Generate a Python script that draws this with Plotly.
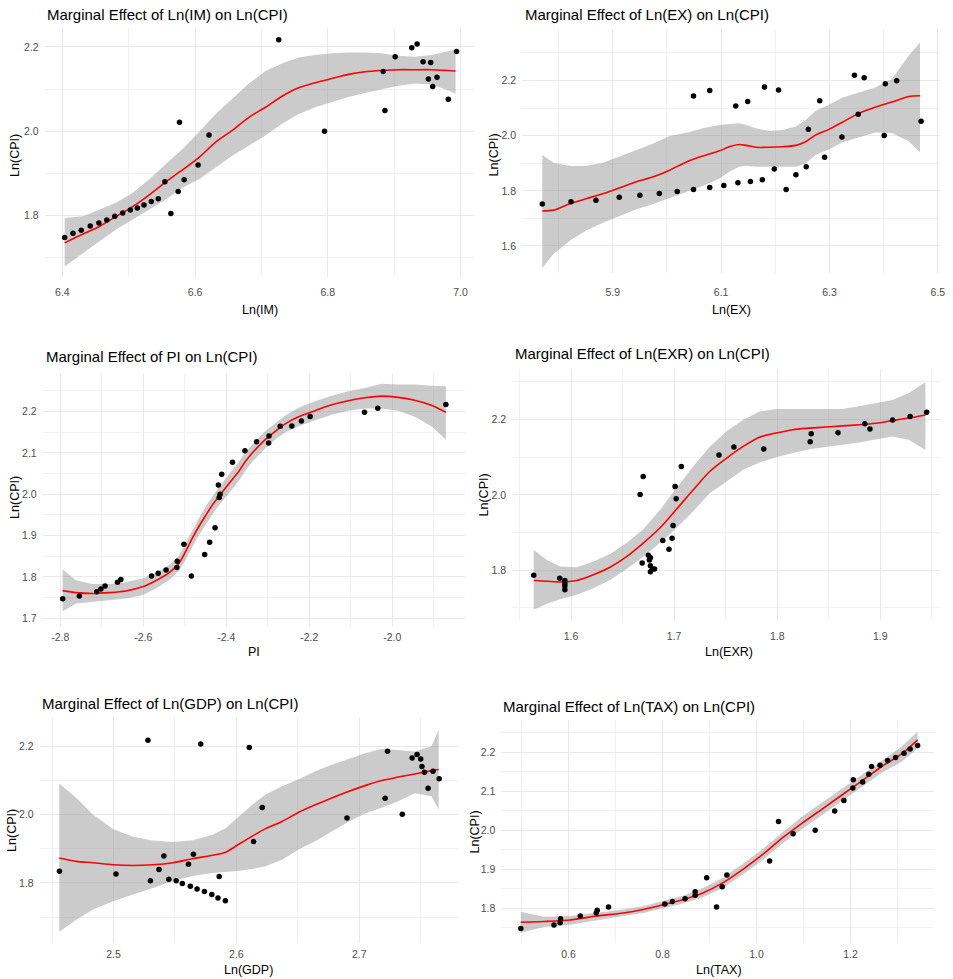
import plotly.graph_objects as go

# ---------------- DATA ----------------
# Panel 1: Ln(IM)
im_x = [6.4035, 6.416, 6.4285, 6.442, 6.455, 6.467, 6.479, 6.491, 6.5025, 6.513, 6.523, 6.534,
        6.5445, 6.5545, 6.5635, 6.5745, 6.5765, 6.5835, 6.6045, 6.621, 6.726, 6.795, 6.8835, 6.886,
        6.9015, 6.9265, 6.9345, 6.9435, 6.955, 6.9515, 6.9645, 6.958, 6.9815, 6.994]
im_y = [1.748, 1.758, 1.765, 1.775, 1.782, 1.789, 1.798, 1.806, 1.813, 1.818, 1.825, 1.833,
        1.840, 1.880, 1.805, 1.857, 2.0215, 1.885, 1.920, 1.991, 2.217, 2.000, 2.142, 2.049,
        2.177, 2.198, 2.207, 2.165, 2.163, 2.124, 2.128, 2.106, 2.076, 2.189]
im_sx = [6.4035, 6.431, 6.456, 6.481, 6.506, 6.531, 6.556, 6.581, 6.606, 6.631, 6.656, 6.681,
         6.706, 6.731, 6.756, 6.781, 6.806, 6.831, 6.856, 6.881, 6.906, 6.931, 6.956, 6.981, 6.9925]
im_fit = [1.735, 1.756, 1.774, 1.798, 1.821, 1.849, 1.880, 1.908, 1.938, 1.974, 2.002, 2.033,
          2.057, 2.083, 2.103, 2.115, 2.125, 2.135, 2.141, 2.144, 2.146, 2.146, 2.146, 2.144, 2.143]
im_hi = [1.794, 1.798, 1.814, 1.830, 1.854, 1.886, 1.922, 1.958, 1.998, 2.041, 2.077, 2.113,
         2.143, 2.161, 2.175, 2.181, 2.185, 2.187, 2.187, 2.185, 2.179, 2.177, 2.181, 2.189, 2.194]
im_lo = [1.679, 1.711, 1.739, 1.767, 1.790, 1.814, 1.838, 1.866, 1.886, 1.914, 1.942, 1.966,
         1.990, 2.018, 2.041, 2.057, 2.069, 2.081, 2.091, 2.100, 2.108, 2.113, 2.111, 2.097, 2.089]

# Panel 2: Ln(EX)
ex_x = [5.770, 5.823, 5.869, 5.912, 5.950, 5.986, 6.019, 6.049, 6.049, 6.079, 6.079, 6.105,
        6.127, 6.131, 6.149, 6.154, 6.176, 6.180, 6.198, 6.206, 6.220, 6.238, 6.257, 6.261,
        6.282, 6.291, 6.323, 6.346, 6.353, 6.364, 6.401, 6.403, 6.424, 6.469]
ex_y = [1.752, 1.760, 1.766, 1.777, 1.784, 1.790, 1.798, 1.805, 2.144, 1.812, 2.164, 1.819,
        2.108, 1.829, 2.124, 1.834, 1.840, 2.177, 1.879, 2.166, 1.805, 1.858, 1.887, 2.023,
        2.127, 1.922, 1.995, 2.219, 2.078, 2.210, 2.001, 2.188, 2.199, 2.052]
ex_sx = [5.770, 5.791, 5.822, 5.852, 5.883, 5.913, 5.944, 5.975, 6.005, 6.036, 6.066, 6.097,
         6.115, 6.134, 6.146, 6.164, 6.189, 6.213, 6.238, 6.256, 6.274, 6.299, 6.323, 6.354,
         6.384, 6.415, 6.446, 6.467]
ex_fit = [1.727, 1.730, 1.754, 1.772, 1.790, 1.811, 1.833, 1.851, 1.875, 1.905, 1.926, 1.945,
          1.960, 1.968, 1.965, 1.958, 1.958, 1.960, 1.965, 1.978, 2.002, 2.023, 2.048, 2.081,
          2.103, 2.122, 2.142, 2.145]
ex_hi = [1.930, 1.902, 1.890, 1.891, 1.903, 1.924, 1.948, 1.972, 1.999, 2.011, 2.027, 2.039,
         2.041, 2.045, 2.039, 2.027, 2.017, 2.021, 2.033, 2.057, 2.090, 2.112, 2.138, 2.158,
         2.175, 2.205, 2.290, 2.338]
ex_lo = [1.520, 1.572, 1.621, 1.657, 1.685, 1.709, 1.733, 1.752, 1.772, 1.796, 1.818, 1.845,
         1.869, 1.887, 1.891, 1.887, 1.887, 1.887, 1.887, 1.899, 1.930, 1.950, 1.975, 1.995,
         2.012, 2.010, 1.980, 1.940]

# Panel 3: PI
pi_x = [-2.794, -2.754, -2.712, -2.702, -2.692, -2.662, -2.654, -2.580, -2.564, -2.545, -2.519,
        -2.518, -2.502, -2.484, -2.452, -2.440, -2.427, -2.419, -2.415, -2.417, -2.411, -2.385,
        -2.355, -2.327, -2.297, -2.298, -2.270, -2.242, -2.219, -2.198, -2.067, -2.035, -1.871]
pi_y = [1.747, 1.754, 1.764, 1.771, 1.778, 1.787, 1.794, 1.802, 1.809, 1.817, 1.823,
        1.838, 1.879, 1.802, 1.854, 1.884, 1.919, 2.022, 2.000, 1.992, 2.048, 2.077,
        2.105, 2.127, 2.141, 2.124, 2.164, 2.165, 2.177, 2.188, 2.198, 2.208, 2.217]
pi_sx = [-2.794, -2.762, -2.722, -2.682, -2.642, -2.602, -2.570, -2.538, -2.514, -2.498, -2.482,
         -2.466, -2.450, -2.434, -2.418, -2.402, -2.386, -2.370, -2.354, -2.338, -2.322, -2.306,
         -2.282, -2.258, -2.226, -2.186, -2.146, -2.106, -2.066, -2.026, -1.986, -1.946, -1.906, -1.871]
pi_fit = [1.767, 1.762, 1.760, 1.762, 1.766, 1.776, 1.791, 1.810, 1.833, 1.861, 1.893,
          1.922, 1.948, 1.973, 1.994, 2.015, 2.035, 2.055, 2.079, 2.099, 2.116, 2.132,
          2.152, 2.170, 2.187, 2.202, 2.216, 2.226, 2.233, 2.237, 2.234, 2.227, 2.215, 2.198]
pi_hi = [1.818, 1.792, 1.783, 1.783, 1.787, 1.796, 1.809, 1.829, 1.851, 1.881, 1.914,
         1.942, 1.970, 1.994, 2.016, 2.037, 2.057, 2.078, 2.102, 2.120, 2.136, 2.152,
         2.172, 2.190, 2.209, 2.225, 2.238, 2.249, 2.257, 2.267, 2.265, 2.265, 2.262, 2.261]
pi_lo = [1.717, 1.736, 1.740, 1.744, 1.748, 1.756, 1.772, 1.792, 1.815, 1.841, 1.872,
         1.901, 1.926, 1.950, 1.973, 1.992, 2.012, 2.032, 2.057, 2.078, 2.095, 2.111,
         2.132, 2.149, 2.164, 2.179, 2.192, 2.202, 2.207, 2.207, 2.202, 2.187, 2.164, 2.132]
pi_ticks = [-2.8, -2.6, -2.4, -2.2, -2.0]
pi_ticktext = ["-2.8", "-2.6", "-2.4", "-2.2", "-2.0"]
pi_minor = [-2.9, -2.7, -2.5, -2.3, -2.1, -1.9]

# Panel 4: Ln(EXR)
exr_x = [1.5638, 1.589, 1.594, 1.594, 1.594, 1.594, 1.667, 1.669, 1.670, 1.675, 1.676, 1.677,
         1.677, 1.677, 1.679, 1.681, 1.689, 1.695, 1.698, 1.699, 1.701, 1.702, 1.707, 1.7435,
         1.758, 1.787, 1.832, 1.833, 1.859, 1.885, 1.890, 1.912, 1.929, 1.945]
exr_y = [1.787, 1.779, 1.773, 1.765, 1.758, 1.748, 2.001, 1.819, 2.049, 1.840, 1.827, 1.833,
         1.812, 1.796, 1.803, 1.803, 1.879, 1.856, 1.885, 1.919, 2.022, 1.990, 2.075, 2.106,
         2.127, 2.122, 2.141, 2.162, 2.165, 2.189, 2.175, 2.199, 2.208, 2.219]
exr_sx = [1.5638, 1.5767, 1.5895, 1.6056, 1.6217, 1.6378, 1.6539, 1.670, 1.6862, 1.7023,
          1.7184, 1.7345, 1.7506, 1.7667, 1.7828, 1.7989, 1.8150, 1.8311, 1.8472, 1.8633,
          1.8794, 1.8955, 1.9116, 1.9277, 1.9438]
exr_fit = [1.773, 1.771, 1.769, 1.773, 1.788, 1.808, 1.836, 1.872, 1.912, 1.962, 2.013, 2.062,
           2.097, 2.128, 2.153, 2.164, 2.173, 2.177, 2.180, 2.183, 2.186, 2.190, 2.197, 2.204, 2.212]
exr_hi = [1.854, 1.827, 1.810, 1.808, 1.823, 1.843, 1.872, 1.909, 1.960, 2.018, 2.075, 2.128,
          2.168, 2.199, 2.221, 2.228, 2.228, 2.226, 2.228, 2.228, 2.235, 2.243, 2.252, 2.270, 2.299]
exr_lo = [1.695, 1.711, 1.723, 1.735, 1.752, 1.774, 1.803, 1.836, 1.872, 1.912, 1.956, 2.004,
          2.035, 2.066, 2.086, 2.100, 2.111, 2.121, 2.128, 2.133, 2.139, 2.146, 2.155, 2.146, 2.119]

# Panel 5: Ln(GDP)
gdp_x = [2.456, 2.502, 2.528, 2.530, 2.537, 2.541, 2.545, 2.551, 2.556, 2.561, 2.5625, 2.565,
         2.568, 2.571, 2.574, 2.580, 2.585, 2.586, 2.591, 2.6105, 2.614, 2.621, 2.690, 2.721,
         2.723, 2.735, 2.743, 2.747, 2.750, 2.751, 2.753, 2.756, 2.760, 2.765]
gdp_y = [1.834, 1.826, 2.218, 1.806, 1.839, 1.879, 1.811, 1.806, 1.798, 1.855, 1.790, 1.884,
         1.782, 2.207, 1.775, 1.766, 1.756, 1.819, 1.748, 2.197, 1.921, 2.021, 1.990, 2.048,
         2.186, 2.001, 2.166, 2.176, 2.163, 2.141, 2.124, 2.077, 2.127, 2.105]
gdp_sx = [2.4559, 2.4699, 2.4834, 2.4996, 2.5158, 2.5320, 2.5482, 2.5644, 2.5806, 2.5914,
          2.6022, 2.6130, 2.6237, 2.6372, 2.6507, 2.6642, 2.6777, 2.6912, 2.7047, 2.7182,
          2.7317, 2.7452, 2.7587, 2.7646]
gdp_fit = [1.873, 1.863, 1.859, 1.853, 1.851, 1.853, 1.859, 1.871, 1.881, 1.890, 1.914, 1.937,
           1.959, 1.980, 2.007, 2.029, 2.049, 2.068, 2.085, 2.100, 2.110, 2.119, 2.129, 2.132]
gdp_hi = [2.091, 2.049, 2.000, 1.958, 1.935, 1.924, 1.920, 1.925, 1.941, 1.961, 1.995, 2.029,
          2.059, 2.083, 2.104, 2.127, 2.146, 2.164, 2.180, 2.193, 2.190, 2.185, 2.200, 2.249]
gdp_lo = [1.657, 1.693, 1.722, 1.746, 1.766, 1.785, 1.805, 1.820, 1.829, 1.833, 1.836, 1.841,
          1.849, 1.868, 1.898, 1.922, 1.951, 1.979, 2.003, 2.020, 2.039, 2.063, 2.054, 2.015]

# Panel 6: Ln(TAX)
tax_x = [0.4984, 0.569, 0.582, 0.583, 0.625, 0.659, 0.661, 0.685, 0.805, 0.821, 0.848, 0.8695,
         0.8695, 0.894, 0.915, 0.927, 0.937, 1.028, 1.047, 1.078, 1.125, 1.1665, 1.186, 1.205,
         1.206, 1.226, 1.239, 1.245, 1.263, 1.279, 1.296, 1.314, 1.327, 1.343]
tax_y = [1.748, 1.757, 1.763, 1.773, 1.780, 1.788, 1.795, 1.803, 1.811, 1.817, 1.824, 1.833,
         1.842, 1.878, 1.803, 1.855, 1.885, 1.921, 2.022, 1.991, 2.000, 2.049, 2.076, 2.108,
         2.129, 2.123, 2.143, 2.163, 2.166, 2.178, 2.186, 2.197, 2.208, 2.217]
tax_sx = [0.4984, 0.5471, 0.6035, 0.6600, 0.7164, 0.7587, 0.8011, 0.8434, 0.8857, 0.9280,
          0.9704, 1.0127, 1.0550, 1.0974, 1.1397, 1.1820, 1.2243, 1.2667, 1.3090, 1.3429]
tax_fit = [1.764, 1.766, 1.770, 1.780, 1.788, 1.797, 1.809, 1.822, 1.839, 1.865, 1.899, 1.937,
           1.980, 2.018, 2.054, 2.090, 2.126, 2.163, 2.195, 2.231]
tax_hi = [1.791, 1.778, 1.780, 1.788, 1.797, 1.805, 1.818, 1.832, 1.851, 1.878, 1.913, 1.951,
          1.994, 2.035, 2.071, 2.106, 2.141, 2.177, 2.214, 2.252]
tax_lo = [1.737, 1.752, 1.758, 1.769, 1.780, 1.788, 1.800, 1.812, 1.828, 1.852, 1.886, 1.923,
          1.965, 2.003, 2.039, 2.076, 2.111, 2.147, 2.175, 2.209]

titles = ["Marginal Effect of Ln(IM) on Ln(CPI)", "Marginal Effect of Ln(EX) on Ln(CPI)",
          "Marginal Effect of PI on Ln(CPI)", "Marginal Effect of Ln(EXR) on Ln(CPI)",
          "Marginal Effect of Ln(GDP) on Ln(CPI)", "Marginal Effect of Ln(TAX) on Ln(CPI)"]
xtitles = ["Ln(IM)", "Ln(EX)", "PI", "Ln(EXR)", "Ln(GDP)", "Ln(TAX)"]
ytitle = "Ln(CPI)"

# ---------------- LAYOUT ----------------
W, H = 953, 979
FONT = "Liberation Sans, Arial, sans-serif"


def px_x(p):
    return p / W


def px_y(p):
    return 1 - p / H


panels = [
    dict(d=(im_x, im_y, im_sx, im_fit, im_lo, im_hi), box=(45, 477, 28, 277),
         xr=[6.3735, 7.021], yr=[1.654, 2.245],
         xt=dict(tick0=6.4, dtick=0.2, minor=dict(dtick=0.1, tick0=6.4)),
         yt=dict(tick0=1.8, dtick=0.2, minor=dict(dtick=0.1, tick0=1.8)),
         tp=(45, 14), xtp=(261, 310), ytp=(15, 155), xtl=5),
    dict(d=(ex_x, ex_y, ex_sx, ex_fit, ex_lo, ex_hi), box=(525, 945, 29, 273),
         xr=[5.733, 6.504], yr=[1.502, 2.387],
         xt=dict(tick0=5.9, dtick=0.2, minor=dict(dtick=0.1, tick0=5.9)),
         yt=dict(tick0=1.6, dtick=0.2, minor=dict(dtick=0.1, tick0=1.6)),
         tp=(526, 14), xtp=(735, 310), ytp=(497, 155), xtl=9),
    dict(d=(pi_x, pi_y, pi_sx, pi_fit, pi_lo, pi_hi), box=(43, 467, 373, 627),
         xr=[-2.842, -1.826], yr=[1.679, 2.293],
         xt=dict(tickmode="array", tickvals=pi_ticks, ticktext=pi_ticktext,
                 minor=dict(tickmode="array", tickvals=pi_minor)),
         yt=dict(tick0=1.7, dtick=0.1, minor=dict(dtick=0.05, tick0=1.7)),
         tp=(44, 356), xtp=(255, 652), ytp=(15, 497), xtl=0),
    dict(d=(exr_x, exr_y, exr_sx, exr_fit, exr_lo, exr_hi), box=(515, 945, 369, 620),
         xr=[1.543, 1.958], yr=[1.668, 2.334],
         xt=dict(tick0=1.6, dtick=0.1, minor=dict(dtick=0.05, tick0=1.6)),
         yt=dict(tick0=1.8, dtick=0.2, minor=dict(dtick=0.1, tick0=1.8)),
         tp=(516, 353), xtp=(733, 652), ytp=(487, 495), xtl=6),
    dict(d=(gdp_x, gdp_y, gdp_sx, gdp_fit, gdp_lo, gdp_hi), box=(40, 460, 717, 943),
         xr=[2.440, 2.780], yr=[1.624, 2.286],
         xt=dict(tick0=2.5, dtick=0.1, minor=dict(dtick=0.05, tick0=2.5)),
         yt=dict(tick0=1.8, dtick=0.2, minor=dict(dtick=0.1, tick0=1.8)),
         tp=(40, 703), xtp=(250, 970), ytp=(12, 830), xtl=1),
    dict(d=(tax_x, tax_y, tax_sx, tax_fit, tax_lo, tax_hi), box=(504, 939, 720, 943),
         xr=[0.457, 1.378], yr=[1.711, 2.282],
         xt=dict(tick0=0.6, dtick=0.2, minor=dict(dtick=0.1, tick0=0.6)),
         yt=dict(tick0=1.8, dtick=0.1, minor=dict(dtick=0.05, tick0=1.8)),
         tp=(504, 706), xtp=(723, 970), ytp=(478, 832), xtl=1),
]

GRID = "#e9e9e9"
MINOR = "#f1f1f1"
TICKC = "#4d4d4d"

fig = go.Figure()
layout = dict(width=W, height=H, margin=dict(l=0, r=0, t=0, b=0),
              paper_bgcolor="white", plot_bgcolor="white", showlegend=False,
              font=dict(family=FONT))
annotations = []

for i, p in enumerate(panels):
    n = "" if i == 0 else str(i + 1)
    xa, ya = "x" + n, "y" + n
    px, py, sx, fit, lo, hi = p["d"]
    fig.add_trace(go.Scatter(x=list(sx) + list(sx[::-1]), y=list(hi) + list(lo[::-1]),
                             fill="toself", fillcolor="rgba(140,140,140,0.45)",
                             line=dict(width=0, color="rgba(0,0,0,0)"), mode="lines",
                             hoverinfo="skip", xaxis=xa, yaxis=ya))
    fig.add_trace(go.Scatter(x=sx, y=fit, mode="lines",
                             line=dict(color="#ff0000", width=1.6, shape="spline", smoothing=0.8),
                             xaxis=xa, yaxis=ya))
    fig.add_trace(go.Scatter(x=px, y=py, mode="markers",
                             marker=dict(color="black", size=5.5), xaxis=xa, yaxis=ya))

    l, r, t, b = p["box"]
    xmin = dict(showgrid=True, gridcolor=MINOR, gridwidth=1)
    xmin.update(p["xt"].get("minor", {}))
    ymin = dict(showgrid=True, gridcolor=MINOR, gridwidth=1)
    ymin.update(p["yt"].get("minor", {}))
    xt = {k: v for k, v in p["xt"].items() if k != "minor"}
    yt = {k: v for k, v in p["yt"].items() if k != "minor"}
    layout["xaxis" + n] = dict(domain=[px_x(l), px_x(r)], range=p["xr"], anchor=ya,
                               showgrid=True, gridcolor=GRID, gridwidth=1, zeroline=False,
                               showline=False, ticks="outside", ticklen=p["xtl"],
                               tickcolor="rgba(0,0,0,0)", tickformat=".1f",
                               tickfont=dict(size=10.5, color=TICKC, family=FONT),
                               minor=xmin, **xt)
    layout["yaxis" + n] = dict(domain=[px_y(b), px_y(t)], range=p["yr"], anchor=xa,
                               showgrid=True, gridcolor=GRID, gridwidth=1, zeroline=False,
                               showline=False, ticks="outside", ticklen=3,
                               tickcolor="rgba(0,0,0,0)", tickformat=".1f",
                               tickfont=dict(size=10.5, color=TICKC, family=FONT),
                               minor=ymin, **yt)
    annotations.append(dict(text=titles[i], x=px_x(p["tp"][0]), y=px_y(p["tp"][1]),
                            xref="paper", yref="paper", xanchor="left", yanchor="middle",
                            showarrow=False, font=dict(size=15, color="black", family=FONT)))
    annotations.append(dict(text=xtitles[i], x=px_x(p["xtp"][0]), y=px_y(p["xtp"][1]),
                            xref="paper", yref="paper", xanchor="center", yanchor="middle",
                            showarrow=False, font=dict(size=12.5, color="black", family=FONT)))
    annotations.append(dict(text=ytitle, x=px_x(p["ytp"][0]), y=px_y(p["ytp"][1]),
                            xref="paper", yref="paper", xanchor="center", yanchor="middle",
                            textangle=-90, showarrow=False,
                            font=dict(size=12.5, color="black", family=FONT)))

layout["annotations"] = annotations
fig.update_layout(**layout)
fig.write_html("out.html", config={"displayModeBar": False},
               post_script="document.body.style.margin='0px';document.body.style.overflow='hidden';")
